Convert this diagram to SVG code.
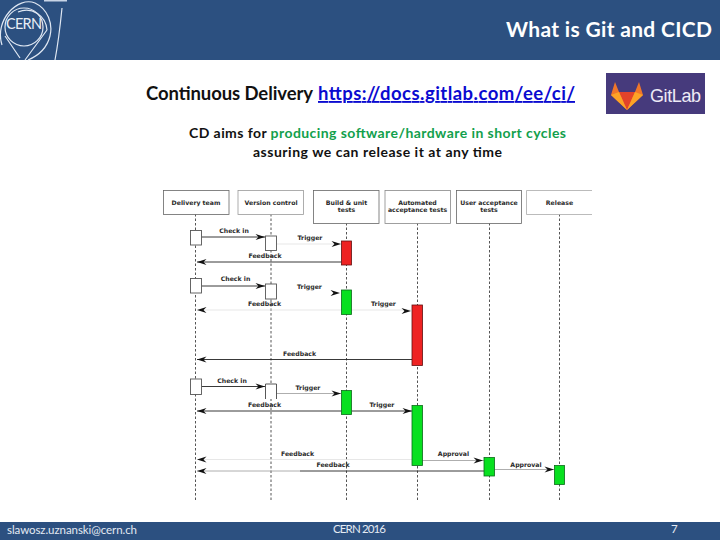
<svg xmlns="http://www.w3.org/2000/svg" width="720" height="540" viewBox="0 0 720 540">
<style>
.bar{fill:#2c5080}
.t{font-family:Lato,"Liberation Sans",sans-serif;fill:#111}
.h{font-weight:700;font-size:18.500px}
.m{font-size:14px;font-weight:700}
.f{font-size:11.500px;fill:#e4eaf3}
.d{font-family:"DejaVu Sans",sans-serif;font-size:6.200px;font-weight:700;fill:#2a2a2a;text-anchor:middle}
.box{fill:#fff;stroke:#666;stroke-width:.8}
.lg{fill:none;stroke:#dfe7f2;stroke-width:1.200}
.life{stroke:#555;stroke-width:1;stroke-dasharray:2.500 2;fill:none}
.a{stroke:#222;stroke-width:.9;fill:none}
.b{stroke:#999;stroke-width:.8;fill:none}
.c{stroke:#ddd;stroke-width:.7;fill:none}
.act{fill:#fff;stroke:#555;stroke-width:.9}
.red{fill:#ee2222;stroke:#601010;stroke-width:.8}
.grn{fill:#08e020;stroke:#0a6a1a;stroke-width:.8}
.head{fill:#111}
</style>
<defs>
<path id="hr" d="M0 0L-9.500 -3L-6.500 0L-9.500 3Z"/>
<path id="hl" d="M0 0L9.500 -3L6.500 0L9.500 3Z"/>
</defs>
<rect width="720" height="540" fill="#fff"/>
<rect class="bar" width="720" height="60"/>
<rect class="bar" y="522" width="720" height="18"/>
<g id="cern-logo">
<rect x="44" y="0" width="23" height="1.500" fill="#c8d4e6"/>
<circle cx="24" cy="27" r="19" class="lg"/>
<path class="lg" d="M2 45C-6 20 18 -4 35 3C48 9 53 24 50 36C47 48 40 55 28 60"/>
<path class="lg" d="M5 36L20 58M47 30L25 60M62 8C60 28 58 44 55 60M18 12C32 6 46 16 47 30"/>
<text x="6" y="29" font-family="Lato,'Liberation Sans',sans-serif" font-size="14.500" fill="#e8eef6" textLength="36">CERN</text>
</g>
<text class="t" x="506" y="37" font-size="21" font-weight="700" textLength="206" style="fill:#fff">What is Git and CICD</text>
<text class="t h" x="146" y="100" textLength="167">Continuous Delivery</text>
<text class="t h" x="318" y="100" textLength="257" text-decoration="underline" style="fill:#0a0ad0">https://docs.gitlab.com/ee/ci/</text>
<g id="gitlab-logo">
<rect x="606" y="73" width="99" height="41" fill="#463a7c"/>
<path d="M611 95L615 82L619 92H635L639 82L643 95L627 110Z" fill="#f0762a"/>
<path d="M619 92H635L627 110Z" fill="#e2432a"/>
<path d="M611 95L619 92L627 110Z" fill="#fca326"/>
<path d="M643 95L635 92L627 110Z" fill="#fca326"/>
<text x="650" y="102" font-family="'Liberation Sans',sans-serif" font-size="18" fill="#eeeaf6" textLength="51">GitLab</text>
</g>
<text class="t m" x="189" y="138" textLength="377">CD aims for <tspan fill="#12a04c">producing software/hardware in short cycles</tspan></text>
<text class="t m" x="253" y="157" textLength="249">assuring we can release it at any time</text>

<g id="connectors">
<path class="life" d="M195.500 214V500M271 214V500M346.500 223V500M417.500 223V500M489.500 223V500"/>
<path class="life" d="M559.500 214V500" stroke-dasharray="3 2"/>
<path class="a" d="M201.500 237H265"/>
<use href="#hr" class="head" x="265" y="237"/>
<path class="c" d="M276.500 244H341"/>
<use href="#hr" class="head" x="341" y="244"/>
<path class="a" d="M197 262H341.500"/>
<use href="#hl" class="head" x="197" y="262"/>
<path class="a" d="M201.500 286H265"/>
<use href="#hr" class="head" x="265" y="286"/>
<use href="#hr" class="head" x="340" y="293"/>
<path class="c" d="M197 310H341.500M352 310H411"/>
<use href="#hl" class="head" x="197" y="310"/>
<use href="#hr" class="head" x="411" y="311"/>
<path class="a" d="M197 359.500H412"/>
<use href="#hl" class="head" x="197" y="359.500"/>
<path class="a" d="M201.500 386.500H265"/>
<use href="#hr" class="head" x="265" y="386.500"/>
<path class="b" d="M276.500 393.500H341"/>
<use href="#hr" class="head" x="341" y="393.500"/>
<path class="a" d="M197 411H341.500"/>
<use href="#hl" class="head" x="197" y="411"/>
<path class="a" d="M352 411H412"/>
<use href="#hr" class="head" x="412" y="411"/>
<path class="c" d="M197 459.500H412"/>
<use href="#hl" class="head" x="197" y="459.500"/>
<path class="b" d="M197 471H300"/>
<path class="a" d="M300 471H484"/>
<use href="#hl" class="head" x="197" y="471"/>
<path class="b" d="M422.500 460.500H484"/>
<use href="#hr" class="head" x="483" y="460.500"/>
<path class="b" d="M494.500 469.500H554"/>
<use href="#hr" class="head" x="554" y="469.500"/>
</g>

<g id="delivery-team"><rect class="box" x="163.500" y="190.500" width="65.500" height="24"/><text class="d" x="196" y="204.500">Delivery team</text></g>
<g id="version-control"><rect class="box" x="238" y="190.500" width="65.500" height="24" style="stroke:#999"/><text class="d" x="271" y="204.500">Version control</text></g>
<g id="build-unit"><rect class="box" x="313.500" y="190.500" width="65.500" height="33"/><text class="d" x="346.500" y="204.500">Build &amp; unit</text><text class="d" x="346.500" y="211.500">tests</text></g>
<g id="acceptance"><rect class="box" x="385" y="190.500" width="65.500" height="33" style="stroke:#888"/><text class="d" x="417.500" y="204.500">Automated</text><text class="d" x="417.500" y="211.500">acceptance tests</text></g>
<g id="user-acceptance"><rect class="box" x="456.500" y="190.500" width="65" height="33"/><text class="d" x="489" y="204.500">User acceptance</text><text class="d" x="489" y="211.500">tests</text></g>
<g id="release"><path d="M592 190.500H526.500V214.500H592" fill="#fff" stroke="#aaa" stroke-width=".8"/><text class="d" x="559.500" y="204.500">Release</text></g>

<g id="activations">
<rect class="act" x="190.500" y="230.500" width="11" height="14.500"/>
<rect class="act" x="265.500" y="236" width="11" height="14.500"/>
<rect class="red" x="341.500" y="241" width="10" height="24"/>
<rect class="act" x="190.500" y="278.500" width="11" height="14.500"/>
<rect class="act" x="265.500" y="284" width="11" height="15"/>
<rect class="grn" x="341.500" y="290" width="10" height="24.500"/>
<rect class="red" x="412" y="305" width="10.500" height="60.500"/>
<rect class="act" x="190.500" y="379" width="11" height="15.500"/>
<path d="M265.500 399V384H276.500V399" fill="#fff" stroke="#444" stroke-width=".9"/>
<rect class="grn" x="341.500" y="390.500" width="10" height="24"/>
<rect class="grn" x="412" y="405.500" width="10.500" height="60"/>
<rect class="grn" x="484" y="457.500" width="10.500" height="18.500"/>
<rect class="grn" x="554.500" y="465.500" width="10" height="19"/>
</g>

<g id="labels">
<text class="d" x="234" y="232.500">Check in</text>
<text class="d" x="310" y="239.500">Trigger</text>
<text class="d" x="265" y="257.500">Feedback</text>
<text class="d" x="235.500" y="281">Check in</text>
<text class="d" x="309.500" y="288.500">Trigger</text>
<text class="d" x="264.500" y="305.500">Feedback</text>
<text class="d" x="383.500" y="305.500">Trigger</text>
<text class="d" x="299.500" y="356">Feedback</text>
<text class="d" x="232" y="382.500">Check in</text>
<text class="d" x="308" y="389.500">Trigger</text>
<text class="d" x="264.500" y="407">Feedback</text>
<text class="d" x="382" y="407">Trigger</text>
<text class="d" x="297.500" y="455.500">Feedback</text>
<text class="d" x="333" y="466.500">Feedback</text>
<text class="d" x="453.500" y="455.500">Approval</text>
<text class="d" x="526" y="466.500">Approval</text>
</g>

<text class="t f" x="7" y="534" textLength="130">slawosz.uznanski@cern.ch</text>
<text class="t f" x="333" y="533" textLength="53">CERN 2016</text>
<text class="t f" x="671" y="533">7</text>
</svg>
